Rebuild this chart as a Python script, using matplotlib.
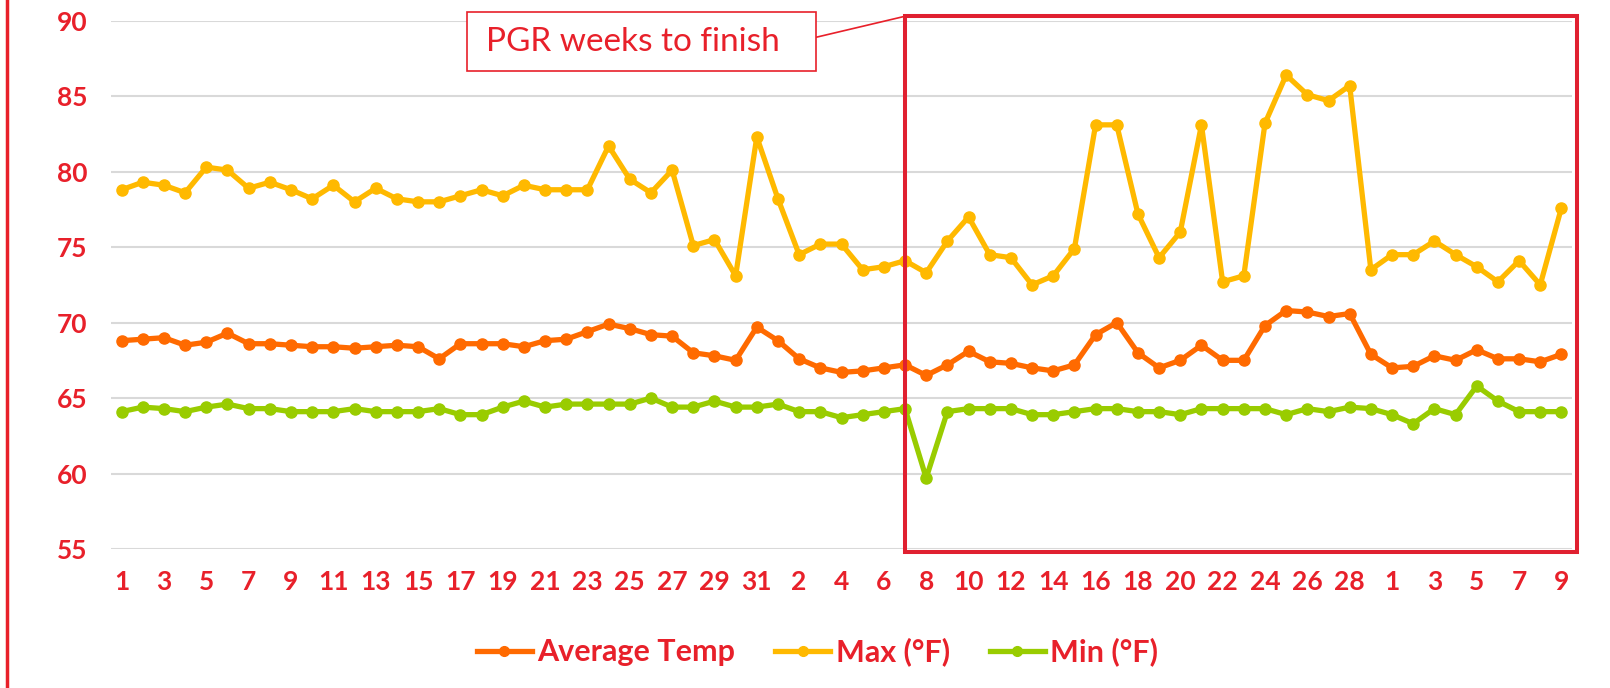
import matplotlib
matplotlib.use("Agg")
import matplotlib.pyplot as plt
from matplotlib.patches import Rectangle
from matplotlib.lines import Line2D

# ---------------- data ----------------
days = list(range(1, 32)) + list(range(1, 30)) + list(range(1, 10))

avg_temp = [68.8, 68.9, 69.0, 68.5, 68.7, 69.3, 68.6, 68.6, 68.5, 68.4, 68.4, 68.3, 68.4, 68.5, 68.4, 67.6, 68.6, 68.6,
            68.6, 68.4, 68.8, 68.9, 69.4, 69.9, 69.6, 69.2, 69.1, 68.0, 67.8, 67.5, 69.7, 68.8, 67.6, 67.0, 66.7, 66.8,
            67.0, 67.2, 66.5, 67.2, 68.1, 67.4,
            67.3, 67.0, 66.8, 67.2, 69.2, 70.0, 68.0, 67.0, 67.5, 68.5, 67.5, 67.5, 69.8, 70.8, 70.7, 70.4, 70.6, 67.9,
            67.0, 67.1, 67.8, 67.5, 68.2, 67.6, 67.6, 67.4, 67.9]

max_f = [78.8, 79.3, 79.1, 78.6, 80.3, 80.1, 78.9, 79.3, 78.8, 78.2, 79.1, 78.0, 78.9, 78.2, 78.0, 78.0, 78.4, 78.8,
         78.4, 79.1, 78.8, 78.8, 78.8, 81.7, 79.5, 78.6, 80.1, 75.1, 75.5, 73.1, 82.3, 78.2, 74.5, 75.2, 75.2, 73.5,
         73.7, 74.1, 73.3, 75.4, 77.0, 74.5,
         74.3, 72.5, 73.1, 74.9, 83.1, 83.1, 77.2, 74.3, 76.0, 83.1, 72.7, 73.1, 83.2, 86.4, 85.1, 84.7, 85.7, 73.5,
         74.5, 74.5, 75.4, 74.5, 73.7, 72.7, 74.1, 72.5, 77.6]

min_f = [64.1, 64.4, 64.3, 64.1, 64.4, 64.6, 64.3, 64.3, 64.1, 64.1, 64.1, 64.3, 64.1, 64.1, 64.1, 64.3, 63.9, 63.9,
         64.4, 64.8, 64.4, 64.6, 64.6, 64.6, 64.6, 65.0, 64.4, 64.4, 64.8, 64.4, 64.4, 64.6, 64.1, 64.1, 63.7, 63.9,
         64.1, 64.3, 59.7, 64.1, 64.3, 64.3,
         64.3, 63.9, 63.9, 64.1, 64.3, 64.3, 64.1, 64.1, 63.9, 64.3, 64.3, 64.3, 64.3, 63.9, 64.3, 64.1, 64.4, 64.3,
         63.9, 63.3, 64.3, 63.9, 65.8, 64.8, 64.1, 64.1, 64.1]

series_names = ["Average Temp", "Max (°F)", "Min (°F)"]
y_ticks = [55, 60, 65, 70, 75, 80, 85, 90]
highlight_start = 37  # index of the 7th day of the second month
annotation_text = "PGR weeks to finish"

# ---------------- style ----------------
RED = "#E8202A"
RECT_RED = "#E02030"
COLORS = ["#FF6A00", "#FFB900", "#99CC00"]
FONT = ["Lato", "DejaVu Sans"]

W, H = 1610, 688
fig = plt.figure(figsize=(W / 100, H / 100), dpi=100)
fig.patch.set_facecolor("white")

ax_left, ax_right = 111, 1572
ax_top, ax_bottom = 20.7, 549
ax = fig.add_axes([ax_left / W, 1 - ax_bottom / H, (ax_right - ax_left) / W, (ax_bottom - ax_top) / H])

x = list(range(len(days)))
for vals, name, col in zip([avg_temp, max_f, min_f], series_names, COLORS):
    ax.plot(x, vals, color=col, lw=3.8, marker="o", ms=8, mfc=col, mec=col,
            label=name, solid_joinstyle="round", zorder=3)

ax.set_xlim(-0.5, len(days) - 0.5)
ax.set_ylim(55, 90)
ax.set_yticks(y_ticks)
ax.set_xticks(x[::2])
ax.set_xticklabels([str(d) for d in days[::2]])
ax.grid(axis="y", color="#D9D9D9", lw=1.5, zorder=0)
ax.set_axisbelow(True)
for s in ax.spines.values():
    s.set_visible(False)
ax.tick_params(axis="both", length=0, labelcolor=RED, labelsize=19)
ax.tick_params(axis="y", pad=17)
ax.tick_params(axis="x", pad=15)
for lab in ax.get_xticklabels() + ax.get_yticklabels():
    lab.set_fontfamily(FONT)
    lab.set_fontweight("bold")

# highlight rectangle (from the 7th day of month 2 to the right edge)
rect = Rectangle((highlight_start, 54.8), (len(days) - 0.27) - highlight_start, 35.53,
                 fill=False, ec=RECT_RED, lw=2.9, clip_on=False, zorder=5)
ax.add_patch(rect)

# annotation box
def fx(px):
    return px / W

def fy(py):
    return 1 - py / H

box = Rectangle((fx(467), fy(70.7)), fx(816) - fx(467), fy(12.3) - fy(70.7),
                transform=fig.transFigure, fill=True, fc="white", ec=RED, lw=1.2, zorder=6)
fig.patches.append(box)
fig.text(fx(486), fy(42), annotation_text, color=RED, fontsize=24, family=FONT,
         va="center", ha="left", zorder=7)
fig.lines.append(Line2D([fx(816), fx(904)], [fy(37.3), fy(16.5)], transform=fig.transFigure,
                        color=RED, lw=1.2))

# left red border
fig.lines.append(Line2D([fx(7), fx(7)], [0, 1], transform=fig.transFigure, color=RED, lw=2.5))

# legend
leg = fig.legend(loc="center", bbox_to_anchor=(fx(817.5), fy(652)), ncol=3, frameon=False,
                 handlelength=1.8, handletextpad=0.18, columnspacing=1.3,
                 prop={"family": FONT, "weight": "bold", "size": 22})
for t in leg.get_texts():
    t.set_color(RED)
for h in leg.legend_handles:
    h.set_markersize(7)

fig.savefig("out.png", dpi=100, facecolor="white")
